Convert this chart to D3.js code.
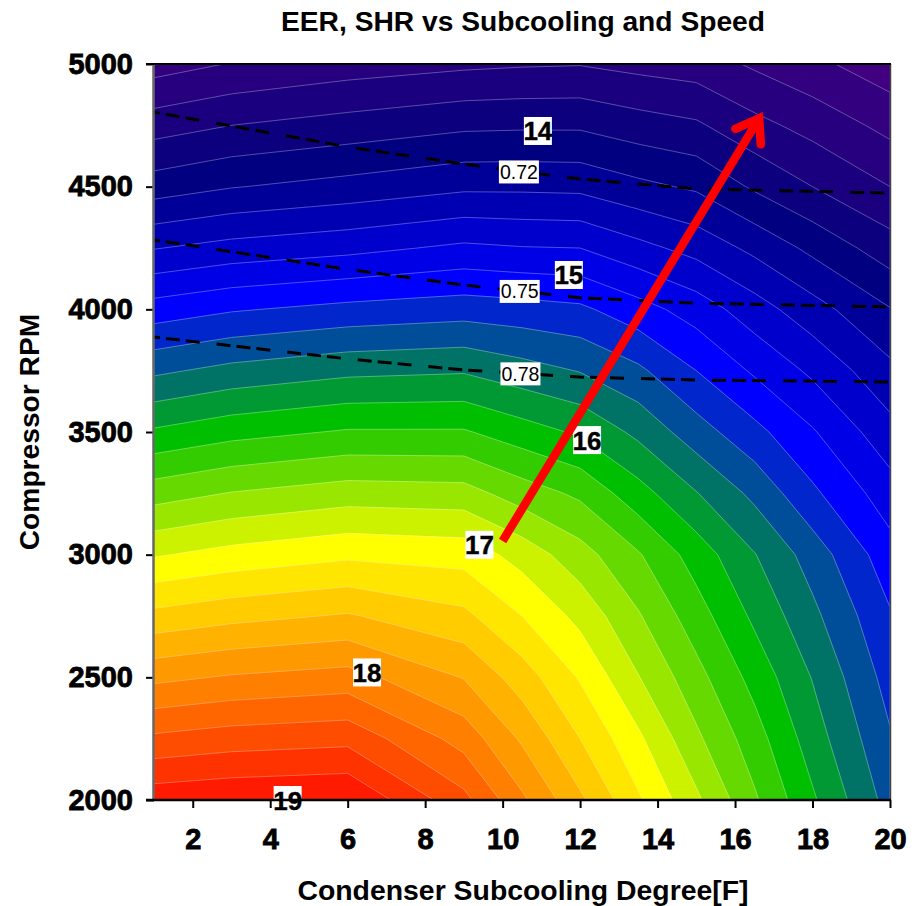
<!DOCTYPE html>
<html><head><meta charset="utf-8">
<script src="https://cdnjs.cloudflare.com/ajax/libs/d3/7.8.5/d3.min.js"></script>
<style>html,body{margin:0;padding:0;background:#fff}svg{display:block}text{font-family:"Liberation Sans",Arial,sans-serif}</style>
</head><body><div id="chart"></div>
<script>
const chartTitle = "EER, SHR vs Subcooling and Speed";
const xTitle = "Condenser Subcooling Degree[F]";
const yTitle = "Compressor RPM";
const subcooling = [1,3,6,9,10.5,12,13.5,15,16.5,18,20];
const rpmRows = [2000,2250,2500,2750,3000,3250,3500,3750,4000,4250,4500,4750,5000];
const eer2000 = [18.93,18.97,19.0,18.46,18.04,17.64,17.23,16.84,16.43,16.03,15.52];
const eer2250 = [18.44,18.50,18.54,18.12,17.77,17.4,17.04,16.64,16.29,15.9,15.42];
const eer2500 = [17.95,18.02,18.08,17.79,17.5,17.18,16.81,16.47,16.13,15.79,15.32];
const eer2750 = [17.46,17.54,17.62,17.45,17.2,16.94,16.62,16.29,15.96,15.65,15.22];
const eer3000 = [16.98,17.07,17.16,17.12,16.92,16.68,16.42,16.11,15.81,15.51,15.08];
const eer3250 = [16.51,16.61,16.7,16.68,16.5,16.36,16.08,15.81,15.55,15.24,14.89];
const eer3500 = [16.03,16.13,16.22,16.22,16.09,15.97,15.75,15.49,15.26,15.02,14.67];
const eer3750 = [15.56,15.66,15.75,15.78,15.68,15.59,15.44,15.2,14.97,14.76,14.45];
const eer4000 = [15.09,15.18,15.26,15.31,15.28,15.24,15.08,14.91,14.69,14.48,14.21];
const eer4250 = [14.59,14.67,14.74,14.84,14.81,14.8,14.66,14.53,14.35,14.15,13.89];
const eer4500 = [14.1,14.19,14.27,14.36,14.36,14.35,14.25,14.17,13.97,13.8,13.6];
const eer4750 = [13.71,13.8,13.88,13.96,13.97,13.97,13.89,13.83,13.66,13.53,13.34];
const eer5000 = [13.31,13.41,13.5,13.56,13.58,13.59,13.54,13.5,13.37,13.25,13.08];
const eerLevels = [13.2,13.4,13.6,13.8,14,14.2,14.4,14.6,14.8,15,15.2,15.4,15.6,15.8,16,16.2,16.4,16.6,16.8,17,17.2,17.4,17.6,17.8,18,18.2,18.4,18.6,18.8];
const bandColors = ["#33007f","#26007f","#1a007f","#0d007f","#000080","#000099","#0000b3","#0000cc","#0000e6","#0000ff","#0026cc","#004d99","#007366","#009933","#00bf00","#33cc00","#66d900","#99e600","#ccf200","#ffff00","#ffe600","#ffcc00","#ffb300","#ff9900","#ff8000","#ff6600","#ff4d00","#ff3300","#ff1a00"];
const lowestColor = "#40007f";
const shrX = [1,6,9,12,15,20];
const shr072 = [4804,4662,4592,4531,4491,4474];
const shr075 = [4283,4163,4099,4047,4025,4010];
const shr078 = [3887,3798,3753,3724,3712,3704];
const shrLabelText = ["0.72","0.75","0.78"];
const shrLabelX = [10.42,10.44,10.46];
const shrLabelRpm = [4560,4073,3737];
const eerLabelText = ["14","15","16","17","18","19"];
const eerLabelX = [10.91,11.71,12.18,9.4,6.5,4.45];
const eerLabelRpm = [4727,4140,3467,3040,2520,2000];
const arrowX = [10,16.72];
const arrowRpm = [3056,4804];
const xTicks = [2,4,6,8,10,12,14,16,18,20];
const yTicks = [2000,2500,3000,3500,4000,4500,5000];

const W = 916, H = 906, L = 154, R = 890, T = 64, B = 800;
const x = d3.scaleLinear().domain([1,20]).range([L,R]);
const y = d3.scaleLinear().domain([2000,5000]).range([B,T]);
const svg = d3.select("#chart").append("svg").attr("width",W).attr("height",H);
svg.append("defs").append("clipPath").attr("id","plot").append("rect")
  .attr("x",L).attr("y",T).attr("width",R-L).attr("height",B-T);

const rows = [eer2000,eer2250,eer2500,eer2750,eer3000,eer3250,eer3500,eer3750,eer4000,eer4250,eer4500,eer4750,eer5000];
const nx = subcooling.length, ny = rpmRows.length;
const ix = d3.scaleLinear().domain(d3.range(nx)).range(subcooling).clamp(true);
const iy = d3.scaleLinear().domain(d3.range(ny)).range(rpmRows).clamp(true);
const contours = d3.contours().size([nx,ny]).thresholds(eerLevels).smooth(true)(rows.flat());
const path = d3.geoPath(d3.geoTransform({point(a,b){this.stream.point(x(ix(a-0.5)),y(iy(b-0.5)));}}));

const plot = svg.append("g").attr("clip-path","url(#plot)");
plot.append("rect").attr("x",L).attr("y",T).attr("width",R-L).attr("height",B-T).attr("fill",lowestColor);
plot.selectAll("path.band").data(contours).join("path").attr("class","band")
  .attr("d",path).attr("fill",(d,i)=>bandColors[i])
  .attr("stroke",(d,i)=>d3.interpolateRgb(bandColors[i],"#ffffff")(0.38)).attr("stroke-width",0.8);

const shrLine = d3.line().x((d,i)=>x(shrX[i])).y(d=>y(d));
plot.selectAll("path.shr").data([shr072,shr075,shr078]).join("path").attr("class","shr")
  .attr("d",shrLine).attr("fill","none").attr("stroke","#000").attr("stroke-width",3)
  .attr("stroke-dasharray","14 6 14 6 14 17").attr("stroke-dashoffset",8);

// SHR labels
shrLabelText.forEach((t,i)=>{
  const cx = x(shrLabelX[i]), cy = y(shrLabelRpm[i]);
  svg.append("rect").attr("x",cx-20).attr("y",cy-11.5).attr("width",40).attr("height",23).attr("fill","#fff");
  svg.append("text").attr("x",cx).attr("y",cy).attr("text-anchor","middle").attr("dominant-baseline","central")
    .attr("font-size",19.5).attr("fill","#000").text(t);
});
// EER labels
eerLabelText.forEach((t,i)=>{
  const cx = x(eerLabelX[i]), cy = y(eerLabelRpm[i]);
  svg.append("rect").attr("x",cx-14).attr("y",cy-14).attr("width",28).attr("height",28).attr("fill","#fff");
  svg.append("text").attr("x",cx).attr("y",cy+0.5).attr("text-anchor","middle").attr("dominant-baseline","central")
    .attr("font-size",26).attr("font-weight","bold").attr("fill","#000").attr("stroke","#000").attr("stroke-width",0.4).text(t);
});

// axes
const heavy = s => s.attr("font-size",29).attr("font-weight","bold").attr("fill","#000")
  .attr("stroke","#000").attr("stroke-width",0.8).attr("font-family",'"Liberation Sans",Arial,sans-serif');
const gx = svg.append("g").attr("transform",`translate(0,${B})`)
  .call(d3.axisBottom(x).tickValues(xTicks).tickFormat(d3.format("d")).tickSize(8).tickPadding(20));
gx.select(".domain").remove();
gx.selectAll("line").attr("stroke","#000").attr("stroke-width",2);
gx.selectAll("text").call(heavy);
const gy = svg.append("g").attr("transform",`translate(${L},0)`)
  .call(d3.axisLeft(y).tickValues(yTicks).tickFormat(d3.format("d")).tickSize(8).tickPadding(13));
gy.select(".domain").remove();
gy.selectAll("line").attr("stroke","#000").attr("stroke-width",2);
gy.selectAll("text").call(heavy);

svg.append("line").attr("x1",L-0.5).attr("x2",L-0.5).attr("y1",T).attr("y2",B).attr("stroke","#666").attr("stroke-width",2.5);
svg.append("line").attr("x1",R+0.5).attr("x2",R+0.5).attr("y1",T).attr("y2",B).attr("stroke","#444").attr("stroke-width",1.5);
svg.append("line").attr("x1",L-8).attr("x2",R+1).attr("y1",T).attr("y2",T).attr("stroke","#000").attr("stroke-width",2);
svg.append("line").attr("x1",L-8).attr("x2",R+1).attr("y1",B).attr("y2",B).attr("stroke","#000").attr("stroke-width",2.5);

// arrow
const x0=x(arrowX[0]), y0=y(arrowRpm[0]), x1=x(arrowX[1]), y1=y(arrowRpm[1]);
const ang=Math.atan2(y0-y1,x0-x1), barb=26, spread=35*Math.PI/180;
const vx=x1+7.4*Math.cos(ang), vy=y1+7.4*Math.sin(ang);
svg.append("line").attr("x1",x0).attr("y1",y0).attr("x2",vx).attr("y2",vy)
  .attr("stroke","#ff0000").attr("stroke-width",8.5);
svg.append("path").attr("d",d3.line()([
    [vx+barb*Math.cos(ang+spread),vy+barb*Math.sin(ang+spread)],[vx,vy],[vx+barb*Math.cos(ang-spread),vy+barb*Math.sin(ang-spread)]]))
  .attr("fill","none").attr("stroke","#ff0000").attr("stroke-width",8.5).attr("stroke-linecap","round").attr("stroke-linejoin","miter").attr("stroke-miterlimit",10);

// titles
svg.append("text").attr("x",523).attr("y",31).attr("text-anchor","middle").attr("font-size",28.2).attr("font-weight","bold").text(chartTitle);
svg.append("text").attr("x",523).attr("y",900).attr("text-anchor","middle").attr("font-size",28.4).attr("font-weight","bold").text(xTitle);
svg.append("text").attr("transform","translate(39,432) rotate(-90)").attr("text-anchor","middle").attr("font-size",28.2).attr("font-weight","bold").text(yTitle);
</script></body></html>
